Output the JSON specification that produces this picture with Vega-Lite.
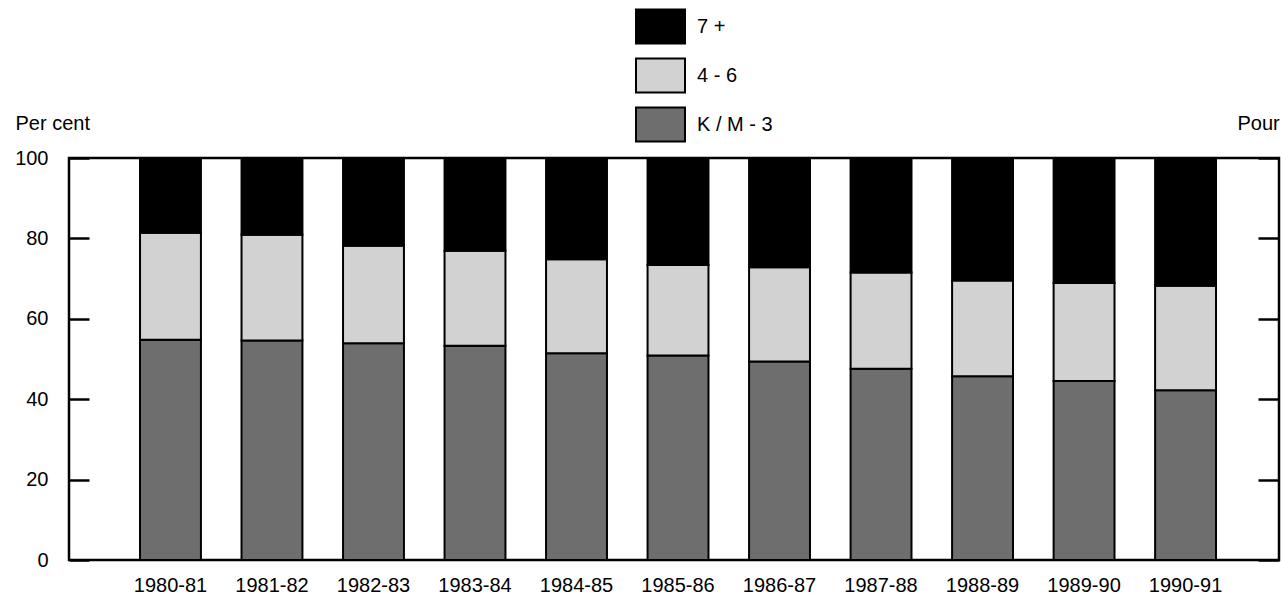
{
  "$schema": "https://vega.github.io/schema/vega-lite/v6.json",
  "autosize": "none",
  "width": 1210,
  "height": 402,
  "padding": {"left": 69, "top": 158, "right": 2, "bottom": 37},
  "background": "white",
  "config": {
    "font": "Liberation Sans",
    "view": {"stroke": "black", "strokeWidth": 2.5},
    "axis": {"labelColor": "black", "titleColor": "black", "labelFont": "Liberation Sans", "titleFont": "Liberation Sans"}
  },
  "data": {
    "values": [
      {"year": "1980-81", "cat": "K / M - 3", "ord": 1, "val": 54.8},
      {"year": "1980-81", "cat": "4 - 6", "ord": 2, "val": 26.6},
      {"year": "1980-81", "cat": "7 +", "ord": 3, "val": 18.6},
      {"year": "1981-82", "cat": "K / M - 3", "ord": 1, "val": 54.6},
      {"year": "1981-82", "cat": "4 - 6", "ord": 2, "val": 26.3},
      {"year": "1981-82", "cat": "7 +", "ord": 3, "val": 19.1},
      {"year": "1982-83", "cat": "K / M - 3", "ord": 1, "val": 53.9},
      {"year": "1982-83", "cat": "4 - 6", "ord": 2, "val": 24.3},
      {"year": "1982-83", "cat": "7 +", "ord": 3, "val": 21.8},
      {"year": "1983-84", "cat": "K / M - 3", "ord": 1, "val": 53.3},
      {"year": "1983-84", "cat": "4 - 6", "ord": 2, "val": 23.6},
      {"year": "1983-84", "cat": "7 +", "ord": 3, "val": 23.1},
      {"year": "1984-85", "cat": "K / M - 3", "ord": 1, "val": 51.4},
      {"year": "1984-85", "cat": "4 - 6", "ord": 2, "val": 23.4},
      {"year": "1984-85", "cat": "7 +", "ord": 3, "val": 25.2},
      {"year": "1985-86", "cat": "K / M - 3", "ord": 1, "val": 50.9},
      {"year": "1985-86", "cat": "4 - 6", "ord": 2, "val": 22.5},
      {"year": "1985-86", "cat": "7 +", "ord": 3, "val": 26.6},
      {"year": "1986-87", "cat": "K / M - 3", "ord": 1, "val": 49.4},
      {"year": "1986-87", "cat": "4 - 6", "ord": 2, "val": 23.4},
      {"year": "1986-87", "cat": "7 +", "ord": 3, "val": 27.2},
      {"year": "1987-88", "cat": "K / M - 3", "ord": 1, "val": 47.6},
      {"year": "1987-88", "cat": "4 - 6", "ord": 2, "val": 23.9},
      {"year": "1987-88", "cat": "7 +", "ord": 3, "val": 28.5},
      {"year": "1988-89", "cat": "K / M - 3", "ord": 1, "val": 45.7},
      {"year": "1988-89", "cat": "4 - 6", "ord": 2, "val": 23.8},
      {"year": "1988-89", "cat": "7 +", "ord": 3, "val": 30.5},
      {"year": "1989-90", "cat": "K / M - 3", "ord": 1, "val": 44.5},
      {"year": "1989-90", "cat": "4 - 6", "ord": 2, "val": 24.4},
      {"year": "1989-90", "cat": "7 +", "ord": 3, "val": 31.1},
      {"year": "1990-91", "cat": "K / M - 3", "ord": 1, "val": 42.2},
      {"year": "1990-91", "cat": "4 - 6", "ord": 2, "val": 26.0},
      {"year": "1990-91", "cat": "7 +", "ord": 3, "val": 31.8}
    ]
  },
  "resolve": {"axis": {"y": "independent"}},
  "layer": [
    {
      "mark": {"type": "bar", "stroke": "black", "strokeWidth": 2},
      "encoding": {
        "x": {
          "field": "year", "type": "nominal", "sort": null,
          "scale": {"paddingInner": 0.4, "paddingOuter": 0.66, "align": 0.53},
          "axis": {"title": null, "ticks": false, "domain": false, "labelAngle": 0, "labelFontSize": 20, "labelPadding": 31, "labelBaseline": "alphabetic"}
        },
        "y": {
          "field": "val", "type": "quantitative", "stack": "zero",
          "scale": {"domain": [0, 100], "nice": false},
          "axis": {
            "orient": "left", "values": [0, 20, 40, 60, 80, 100], "grid": false, "domain": false,
            "ticks": true, "tickSize": -20, "tickWidth": 2.5, "tickColor": "black",
            "labelPadding": 41, "labelFontSize": 20,
            "title": "Per cent", "titleAngle": 0, "titleAlign": "left", "titleBaseline": "middle",
            "titleX": -54, "titleY": -35, "titleFontSize": 20, "titleFontWeight": "normal"
          }
        },
        "color": {
          "field": "cat", "type": "nominal",
          "scale": {"domain": ["7 +", "4 - 6", "K / M - 3"], "range": ["#000000", "#d2d2d2", "#6e6e6e"]},
          "legend": {
            "title": null, "orient": "none", "legendX": 566, "legendY": -157,
            "symbolType": "M-1,-0.694H1V0.694H-1Z", "symbolSize": 2401,
            "symbolStrokeColor": "black", "symbolStrokeWidth": 2, "symbolOpacity": 1,
            "labelFontSize": 20, "labelColor": "black", "labelOffset": 11, "rowPadding": 2,
            "labelFont": "Liberation Sans"
          }
        },
        "order": {"field": "ord", "type": "quantitative"}
      }
    },
    {
      "mark": {"type": "rule", "opacity": 0},
      "encoding": {
        "y": {
          "field": "val", "type": "quantitative",
          "axis": {
            "orient": "right", "values": [0, 20, 40, 60, 80, 100], "grid": false, "domain": false,
            "ticks": true, "tickSize": -21, "tickWidth": 2.5, "tickColor": "black", "labels": false,
            "title": "Pour", "titleAngle": 0, "titleAlign": "left", "titleBaseline": "middle",
            "titleX": -42, "titleY": -35, "titleFontSize": 20, "titleFontWeight": "normal"
          }
        }
      }
    }
  ]
}
